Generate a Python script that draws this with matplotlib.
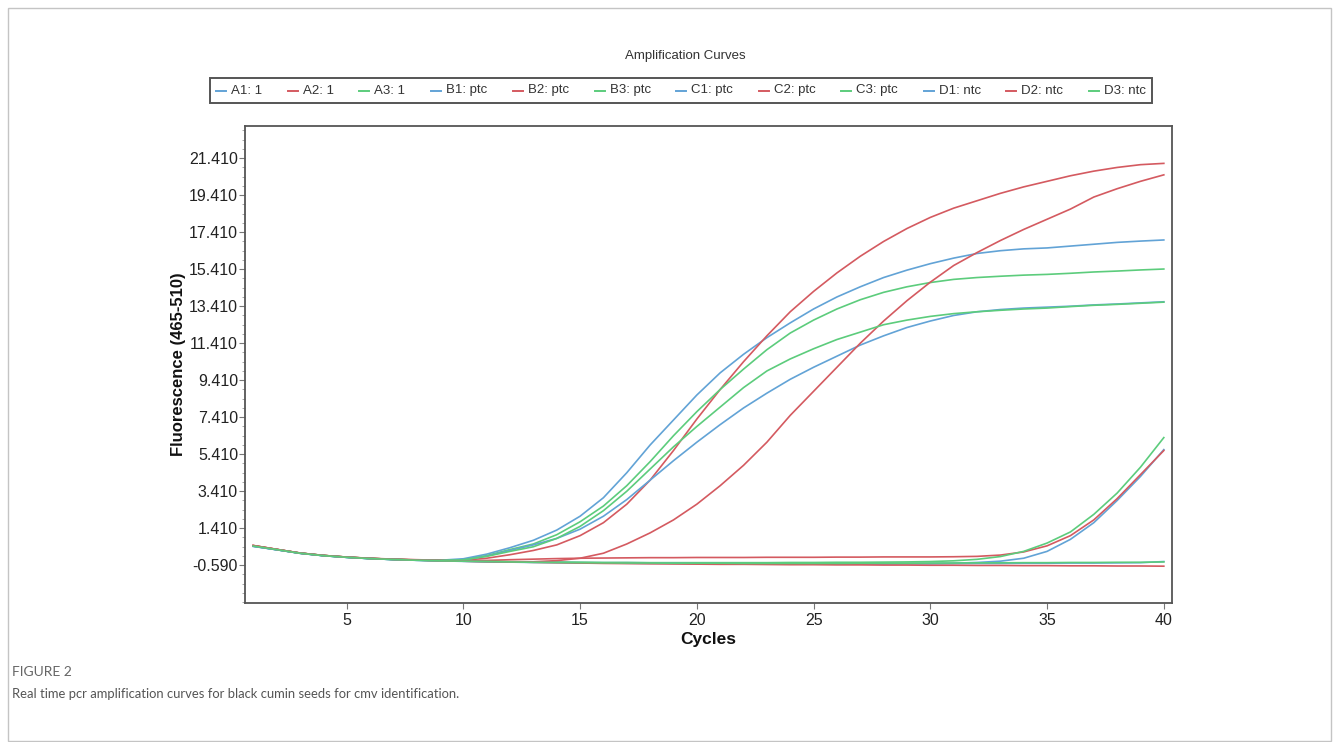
import numpy as np
import matplotlib
matplotlib.use("Agg")
import matplotlib.pyplot as plt
from matplotlib.lines import Line2D
from matplotlib.patches import Rectangle
from matplotlib.ticker import FixedLocator, FormatStrFormatter

cycles = list(range(1, 41))

labels = ["A1: 1", "A2: 1", "A3: 1", "B1: ptc", "B2: ptc", "B3: ptc",
          "C1: ptc", "C2: ptc", "C3: ptc", "D1: ntc", "D2: ntc", "D3: ntc"]

A1 = [0.42, 0.24, 0.05, -0.08, -0.17, -0.24, -0.29, -0.33, -0.36, -0.38,
      -0.40, -0.42, -0.43, -0.44, -0.45, -0.46, -0.46, -0.47, -0.47, -0.47,
      -0.48, -0.48, -0.48, -0.49, -0.49, -0.49, -0.49, -0.50, -0.50, -0.50,
      -0.49, -0.45, -0.38, -0.22, 0.15, 0.80, 1.70, 2.90, 4.20, 5.65]
A2 = [0.47, 0.26, 0.06, -0.07, -0.16, -0.22, -0.27, -0.30, -0.33, -0.35,
      -0.34, -0.30, -0.27, -0.24, -0.22, -0.21, -0.20, -0.19, -0.19, -0.18,
      -0.18, -0.18, -0.17, -0.17, -0.17, -0.16, -0.16, -0.15, -0.15, -0.15,
      -0.14, -0.12, -0.05, 0.12, 0.45, 1.00, 1.85, 3.00, 4.30, 5.60]
A3 = [0.44, 0.25, 0.06, -0.07, -0.16, -0.23, -0.28, -0.32, -0.35, -0.37,
      -0.39, -0.41, -0.42, -0.43, -0.44, -0.45, -0.45, -0.46, -0.46, -0.46,
      -0.46, -0.46, -0.46, -0.45, -0.45, -0.44, -0.44, -0.43, -0.42, -0.40,
      -0.36, -0.28, -0.13, 0.15, 0.60, 1.20, 2.15, 3.30, 4.70, 6.30]
B1 = [0.45, 0.25, 0.05, -0.08, -0.17, -0.24, -0.29, -0.32, -0.33, -0.25,
      0.00, 0.35, 0.75, 1.30, 2.05, 3.05, 4.40, 5.90, 7.25, 8.60,
      9.80, 10.80, 11.70, 12.50, 13.25, 13.90, 14.45, 14.95, 15.35, 15.70,
      16.00, 16.25, 16.40, 16.50, 16.55, 16.65, 16.75, 16.85, 16.92, 16.98]
B2 = [0.46, 0.26, 0.06, -0.07, -0.16, -0.23, -0.28, -0.31, -0.34, -0.33,
      -0.22, -0.03, 0.20, 0.50, 1.00, 1.70, 2.70, 4.00, 5.60, 7.30,
      8.90, 10.40, 11.80, 13.10, 14.20, 15.20, 16.10, 16.90, 17.60, 18.20,
      18.70, 19.10, 19.50, 19.85, 20.15, 20.45, 20.70, 20.90, 21.05, 21.12]
B3 = [0.44, 0.24, 0.05, -0.08, -0.17, -0.24, -0.29, -0.32, -0.34, -0.30,
      -0.08, 0.25, 0.55, 1.05, 1.75, 2.60, 3.70, 5.00, 6.40, 7.70,
      8.90, 10.00, 11.05, 11.95, 12.65, 13.25, 13.75, 14.15, 14.45, 14.68,
      14.85, 14.95, 15.02, 15.08, 15.12, 15.18, 15.25, 15.30, 15.36, 15.41]
C1 = [0.43, 0.24, 0.05, -0.08, -0.17, -0.24, -0.29, -0.33, -0.35, -0.30,
      -0.10, 0.20, 0.50, 0.85, 1.35, 2.05, 2.95, 4.00, 5.05, 6.05,
      7.00, 7.90, 8.70, 9.45, 10.10, 10.70, 11.30, 11.80, 12.25, 12.60,
      12.90, 13.10, 13.22, 13.30, 13.35, 13.40, 13.47, 13.52, 13.58, 13.64]
C2 = [0.47, 0.26, 0.06, -0.07, -0.16, -0.23, -0.28, -0.32, -0.35, -0.38,
      -0.40, -0.41, -0.41, -0.35, -0.22, 0.05, 0.55, 1.15, 1.85, 2.70,
      3.70, 4.80, 6.05, 7.50, 8.80, 10.10, 11.40, 12.60, 13.70, 14.70,
      15.60, 16.30, 16.95, 17.55, 18.10, 18.65, 19.30, 19.75, 20.15, 20.50]
C3 = [0.45, 0.25, 0.06, -0.07, -0.16, -0.23, -0.28, -0.32, -0.34, -0.31,
      -0.12, 0.15, 0.40, 0.85, 1.50, 2.35, 3.40, 4.60, 5.80, 6.90,
      7.95, 9.00, 9.90, 10.55, 11.10, 11.60, 12.00, 12.40, 12.65, 12.85,
      13.00, 13.10, 13.18, 13.25, 13.30, 13.38, 13.45, 13.50, 13.56, 13.62]
D1 = [0.43, 0.24, 0.05, -0.08, -0.17, -0.24, -0.29, -0.33, -0.36, -0.39,
      -0.41, -0.43, -0.45, -0.46, -0.47, -0.48, -0.49, -0.50, -0.50, -0.51,
      -0.51, -0.52, -0.52, -0.53, -0.53, -0.53, -0.53, -0.53, -0.52, -0.52,
      -0.51, -0.50, -0.50, -0.49, -0.49, -0.48, -0.48, -0.47, -0.46, -0.40]
D2 = [0.46, 0.26, 0.06, -0.07, -0.16, -0.23, -0.28, -0.32, -0.35, -0.38,
      -0.40, -0.42, -0.44, -0.46, -0.48, -0.50, -0.51, -0.52, -0.53, -0.54,
      -0.55, -0.55, -0.56, -0.57, -0.57, -0.58, -0.58, -0.59, -0.59, -0.60,
      -0.60, -0.61, -0.61, -0.62, -0.62, -0.63, -0.63, -0.64, -0.64, -0.65]
D3 = [0.44, 0.25, 0.05, -0.08, -0.17, -0.24, -0.29, -0.33, -0.36, -0.38,
      -0.40, -0.42, -0.44, -0.45, -0.46, -0.47, -0.48, -0.48, -0.49, -0.49,
      -0.49, -0.50, -0.50, -0.50, -0.50, -0.50, -0.49, -0.49, -0.49, -0.48,
      -0.48, -0.47, -0.47, -0.46, -0.46, -0.45, -0.45, -0.44, -0.44, -0.42]

series = [A1, A2, A3, B1, B2, B3, C1, C2, C3, D1, D2, D3]

blue, red, green = "#62a3d6", "#d45a60", "#5ccc7c"
colors = [blue, red, green] * 4

ytick_vals = [-0.59, 1.41, 3.41, 5.41, 7.41, 9.41, 11.41, 13.41, 15.41, 17.41, 19.41, 21.41]
xtick_vals = [5, 10, 15, 20, 25, 30, 35, 40]

W, H = 1333, 742
fig = plt.figure(figsize=(W / 100, H / 100), dpi=100)
sans = ["Liberation Sans", "DejaVu Sans"]

def fx(px):
    return px / W

def fy(py):
    return 1 - py / H

# outer frame
fig.patches.append(Rectangle((fx(8), fy(741)), fx(1331) - fx(8), fy(8) - fy(741),
                             transform=fig.transFigure, fill=False,
                             edgecolor="#c4c4c4", linewidth=1.0))

ax = fig.add_axes([fx(245), fy(603), fx(1172) - fx(245), fy(126) - fy(603)])
for s, c in zip(series, colors):
    ax.plot(cycles, s, color=c, linewidth=1.2)

ax.set_xlim(0.65, 40.35)
ax.set_ylim(-2.64, 23.14)
ax.yaxis.set_major_locator(FixedLocator(ytick_vals))
ax.yaxis.set_major_formatter(FormatStrFormatter("%.3f"))
ax.yaxis.set_minor_locator(FixedLocator(list(np.arange(-2.59, 23.0, 0.5))))
ax.xaxis.set_major_locator(FixedLocator(xtick_vals))
ax.tick_params(axis="both", which="major", length=4, width=0.8, color="#777777",
               labelsize=11.5, labelcolor="#222222", pad=1)
ax.tick_params(axis="x", which="major", pad=3)
ax.tick_params(axis="y", which="minor", length=2, width=0.6, color="#999999")
for lab in ax.get_xticklabels() + ax.get_yticklabels():
    lab.set_family(sans)
for sp in ax.spines.values():
    sp.set_color("#555555")
    sp.set_linewidth(1.3)

ax.set_xlabel("Cycles", fontsize=12.5, fontweight="bold", family=sans,
              color="#111111", labelpad=3)
ax.set_ylabel("Fluorescence (465-510)", fontsize=12, fontweight="bold",
              family=sans, color="#111111", labelpad=2.5)

fig.text(fx(685), fy(56), "Amplification Curves", ha="center", va="center",
         fontsize=9.5, family=sans, color="#333333")

# legend box drawn by hand
fig.patches.append(Rectangle((fx(210), fy(103)), fx(1152) - fx(210), fy(78) - fy(103),
                             transform=fig.transFigure, fill=False,
                             edgecolor="#555555", linewidth=1.4))
renderer = fig.canvas.get_renderer()
ly = fy(90.5)
texts = []
widths = []
for lab in labels:
    t = fig.text(0, ly, lab, ha="left", va="center", fontsize=9.5,
                 family=sans, color="#333333")
    bb = t.get_window_extent(renderer=renderer)
    texts.append(t)
    widths.append(bb.width)
dash, dgap = 10, 5
start, end = 216, 1146
gap = (end - start - sum(dash + dgap + w for w in widths)) / (len(labels) - 1)
x = start
for t, w, c in zip(texts, widths, colors):
    fig.lines.append(Line2D([fx(x), fx(x + dash)], [ly, ly], transform=fig.transFigure,
                            color=c, linewidth=1.4))
    t.set_x(fx(x + dash + dgap))
    x += dash + dgap + w + gap

fig.text(fx(12), fy(672), "FIGURE 2", ha="left", va="center", fontsize=10,
         family=["Lato", "DejaVu Sans"], color="#666666")
fig.text(fx(12), fy(694), "Real time pcr amplification curves for black cumin seeds for cmv identification.",
         ha="left", va="center", fontsize=9.4, family=["Lato", "DejaVu Sans"], color="#555555")

fig.savefig("out.png", dpi=100)
